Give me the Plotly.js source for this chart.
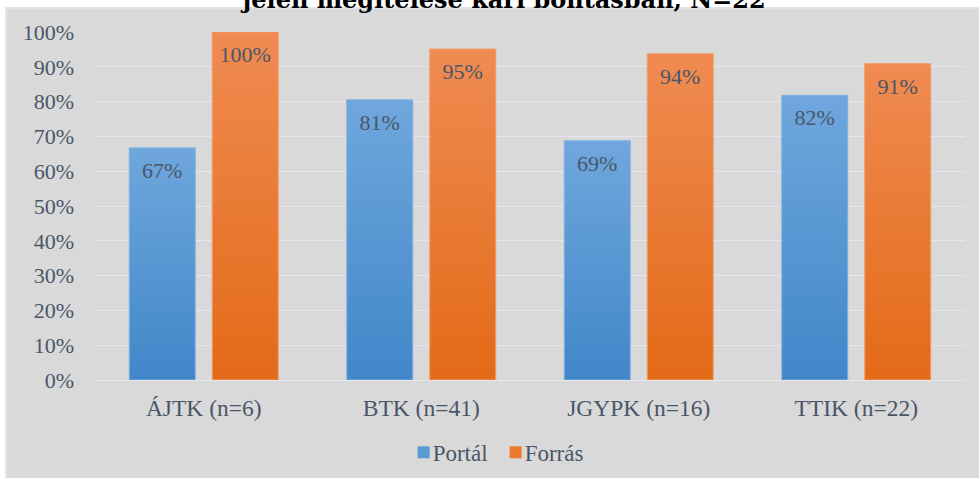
<!DOCTYPE html>
<html>
<head>
<meta charset="utf-8">
<script src="https://cdn.plot.ly/plotly-3.0.1.min.js"></script>
<style>
html,body{margin:0;padding:0;background:#fff;}
#chart{width:979px;height:478px;}
</style>
</head>
<body>
<div id="chart"></div>
<script>
const categories = ['ÁJTK (n=6)', 'BTK (n=41)', 'JGYPK (n=16)', 'TTIK (n=22)'];
const portal = [0.667, 0.805, 0.6875, 0.818];
const forras = [1.0, 0.951, 0.9375, 0.909];
const yTickVals = [0, 0.1, 0.2, 0.3, 0.4, 0.5, 0.6, 0.7, 0.8, 0.9, 1.0];
const yTickText = ['0%', '10%', '20%', '30%', '40%', '50%', '60%', '70%', '80%', '90%', '100%'];
const titleText = 'jelen megítélése kari bontásban, N=22';

const txtColor = '#4a5668';
const serif = 'Liberation Serif';

const traces = [
  {
    type: 'bar', name: 'Portál', x: categories, y: portal,
    marker: {color: '#5b9bd5'},
    texttemplate: '%{y:.0%}', textposition: 'inside', insidetextanchor: 'end',
    textfont: {family: serif, size: 22, color: txtColor},
    textangle: 0, hoverinfo: 'skip'
  },
  {
    type: 'bar', name: 'Forrás', x: categories, y: forras,
    marker: {color: '#ef7a2e'},
    texttemplate: '%{y:.0%}', textposition: 'inside', insidetextanchor: 'end',
    textfont: {family: serif, size: 22, color: txtColor},
    textangle: 0, hoverinfo: 'skip'
  }
];

const layout = {
  width: 979, height: 478,
  margin: {l: 95, r: 14, t: 32, b: 98},
  paper_bgcolor: '#ffffff',
  plot_bgcolor: 'rgba(0,0,0,0)',
  font: {family: serif, size: 22, color: txtColor},
  title: {
    text: titleText, x: 0.515, xanchor: 'center', y: 1, yanchor: 'middle',
    yref: 'container',
    font: {family: 'DejaVu Serif', size: 24, color: '#000000', weight: 'bold'}
  },
  barmode: 'group', bargap: 0.237, bargroupgap: 0.205,
  showlegend: true,
  legend: {
    orientation: 'h', x: 0.4605, xanchor: 'center',
    yref: 'container', y: 0.054, yanchor: 'middle',
    font: {family: serif, size: 23, color: txtColor},
    entrywidth: 47, entrywidthmode: 'pixels',
    traceorder: 'normal', bgcolor: 'rgba(0,0,0,0)'
  },
  xaxis: {
    type: 'category', showgrid: false, zeroline: false, showline: false,
    ticks: '', ticklabelstandoff: 11,
    tickfont: {family: serif, size: 23.5, color: txtColor}
  },
  yaxis: {
    range: [0, 1.0], tickvals: yTickVals, ticktext: yTickText,
    showgrid: true, gridcolor: '#e6e6ec', gridwidth: 1,
    zeroline: true, zerolinecolor: '#e6e6ec', zerolinewidth: 1,
    showline: false, ticks: '', ticklabelstandoff: 20,
    tickfont: {family: serif, size: 22, color: txtColor},
    fixedrange: true
  },
  shapes: [{
    type: 'rect', xref: 'paper', yref: 'paper', layer: 'below',
    x0: -0.102, x1: 1.02, y0: -0.29, y1: 1.069,
    fillcolor: '#d9d9d9', line: {color: '#dfe4ea', width: 2}
  }]
};

Plotly.newPlot('chart', traces, layout, {staticPlot: true, displayModeBar: false}).then(function(gd){
  const svg = gd.querySelector('.main-svg');
  const ns = 'http://www.w3.org/2000/svg';
  let defs = svg.querySelector('defs');
  function grad(id, top, bottom){
    const g = document.createElementNS(ns, 'linearGradient');
    g.setAttribute('id', id);
    g.setAttribute('x1', '0'); g.setAttribute('y1', '0');
    g.setAttribute('x2', '0'); g.setAttribute('y2', '1');
    const s1 = document.createElementNS(ns, 'stop');
    s1.setAttribute('offset', '0'); s1.setAttribute('stop-color', top);
    const s2 = document.createElementNS(ns, 'stop');
    s2.setAttribute('offset', '1'); s2.setAttribute('stop-color', bottom);
    g.appendChild(s1); g.appendChild(s2);
    defs.appendChild(g);
  }
  grad('gBlue', '#6fa7dd', '#4187c9');
  grad('gOrange', '#f08b52', '#e36a17');
  const barTraces = gd.querySelectorAll('.barlayer .trace');
  const ids = ['gBlue', 'gOrange'];
  barTraces.forEach(function(t, i){
    t.querySelectorAll('.point path').forEach(function(p){
      p.style.fill = 'url(#' + ids[i] + ')';
      p.style.stroke = i === 0 ? '#7fb0e0' : '#f29a68';
      p.style.strokeWidth = '1px';
    });
    t.querySelectorAll('.point text').forEach(function(tx){
      const tr = tx.getAttribute('transform') || '';
      tx.setAttribute('transform', 'translate(0,7) ' + tr);
    });
  });
  gd.querySelectorAll('.legend .legendtext').forEach(function(tx){
    tx.setAttribute('x', '29');
  });
});
</script>
</body>
</html>
